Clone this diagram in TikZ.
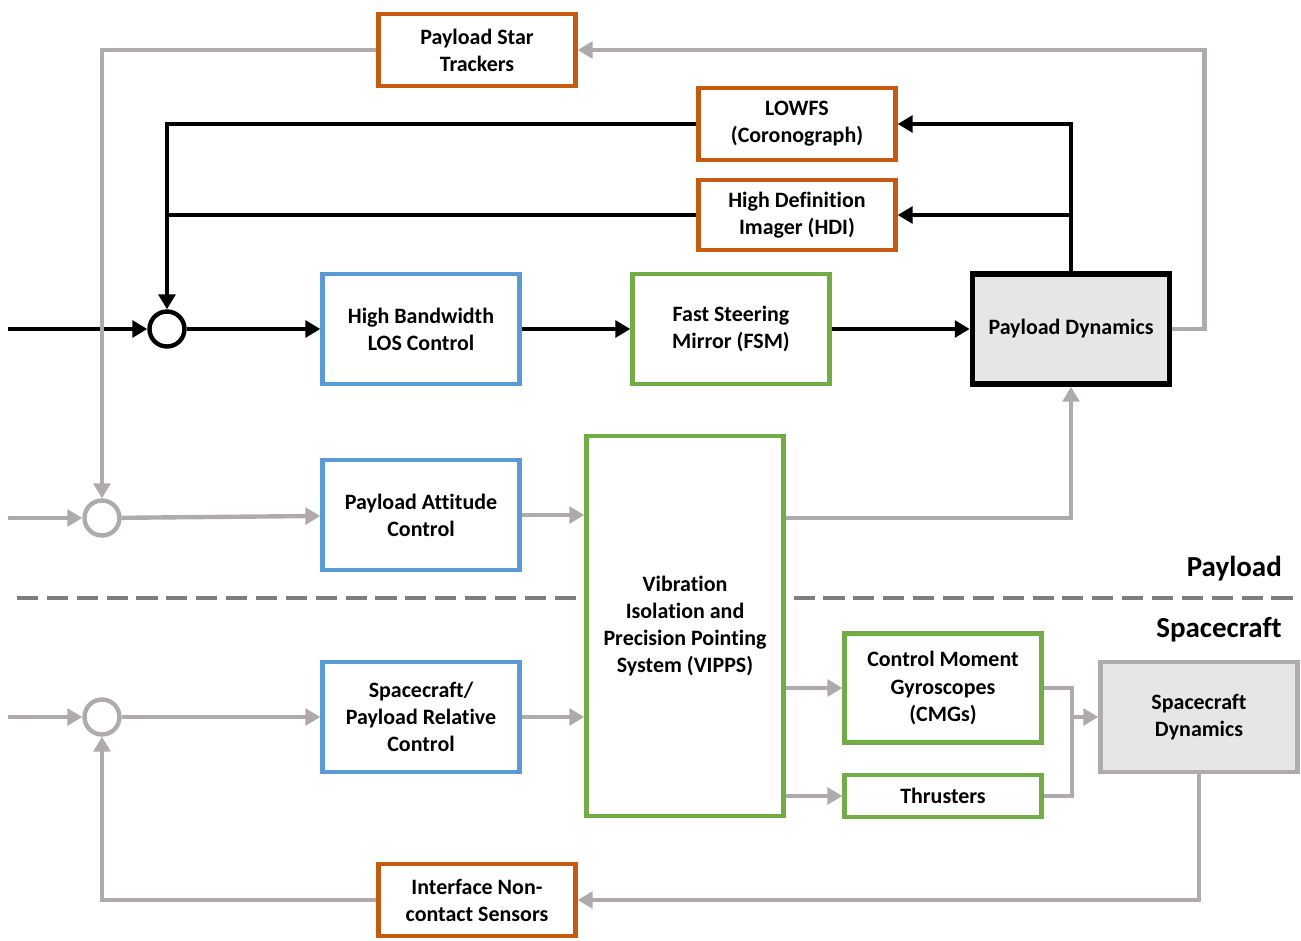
\documentclass[tikz,border=0pt]{standalone}
\usepackage{fontspec}
\setmainfont{Carlito}[Ligatures=NoCommon]
\usepackage{xcolor}
\usetikzlibrary{arrows.meta}

\definecolor{sensorange}{HTML}{C55A11}
\definecolor{ctrlblue}{HTML}{5B9BD5}
\definecolor{actgreen}{HTML}{70AD47}
\definecolor{linegray}{HTML}{AFABAB}
\definecolor{dynfill}{HTML}{E7E6E6}
\definecolor{splitgray}{HTML}{7F7F7F}

\begin{document}
\begin{tikzpicture}[x=0.02cm, y=-0.02cm,
    box/.style={draw, line width=2.5pt, fill=white, align=center, inner sep=2pt,
      minimum width=3.94cm, minimum height=2.2cm, font=\bfseries\fontsize{12.5}{15.4}\selectfont},
    sensor/.style={box, draw=sensorange, minimum height=1.44cm},
    ctrl/.style={box, draw=ctrlblue},
    actuator/.style={box, draw=actgreen},
    dyn/.style={box, fill=dynfill},
    sumpt/.style={circle, draw, line width=2.5pt, fill=white, minimum size=0.7cm, inner sep=0pt},
    blackline/.style={line width=2.5pt, -{Triangle[length=8.5pt, width=9.5pt]}},
    grayline/.style={line width=2.5pt, -{Triangle[length=8.5pt, width=9.5pt]}, color=linegray}]
    \useasboundingbox (0,0) rectangle (1301,940);

    % payload / spacecraft split
    \draw[splitgray, line width=2.4pt, dash pattern=on 12pt off 5pt] (17,598) -- (1301,598);
    \node[anchor=east, font=\bfseries\fontsize{16.5}{20}\selectfont] (payloadlbl) at (1288,569) {Payload};
    \node[anchor=east, font=\bfseries\fontsize{16.5}{20}\selectfont] (scraftlbl) at (1288,630) {Spacecraft};

    % sensors
    \node[sensor] (star) at (477,50) {Payload Star\\Trackers};
    \node[sensor] (lowfs) at (797,124) {LOWFS\\(Coronograph)};
    \node[sensor, minimum height=1.4cm] (hdi) at (797,215) {High Definition\\Imager (HDI)};
    \node[sensor] (ncs) at (477,900) {Interface Non-\\contact Sensors};

    % controllers, actuators, plants
    \node[sumpt] (sum1) at (167,329) {};
    \node[ctrl] (hblos) at (421,329) {High Bandwidth\\LOS Control};
    \node[actuator] (fsm) at (731,329) {Fast Steering\\Mirror (FSM)};
    \node[dyn, line width=3.2pt] (pdyn) at (1071,329) {Payload Dynamics};
    \node[sumpt, draw=linegray] (sum2) at (102,518) {};
    \node[ctrl] (pac) at (421,515) {Payload Attitude\\Control};
    \node[actuator, minimum height=7.6cm] (vipps) at (685,626) {Vibration\\Isolation and\\Precision Pointing\\System (VIPPS)};
    \node[sumpt, draw=linegray] (sum3) at (102,717) {};
    \node[ctrl] (sprc) at (421,717) {Spacecraft/\\Payload Relative\\Control};
    \node[actuator, minimum height=2.18cm] (cmg) at (943,688) {Control Moment\\Gyroscopes\\(CMGs)};
    \node[actuator, minimum height=0.84cm] (thr) at (943,796) {Thrusters};
    \node[dyn, draw=linegray] (sdyn) at (1199,717) {Spacecraft\\Dynamics};

    \coordinate (in1) at (8,329);
    \coordinate (in2) at (8,518);
    \coordinate (in3) at (8,717);
    \coordinate (join) at (1072,717);

    % fine pointing loop
    \draw[blackline] (in1) -- (sum1);
    \draw[blackline] (sum1) -- (hblos);
    \draw[blackline] (hblos) -- (fsm);
    \draw[blackline] (fsm) -- (pdyn);
    \draw[blackline] (pdyn.north) |- (lowfs.east);
    \draw[blackline] (pdyn.north) |- (hdi.east);
    \draw[blackline] (lowfs.west) -| (sum1.north);
    \draw[line width=2.5pt] (hdi.west) -- (hdi.west -| sum1);

    % payload attitude loop
    \draw[grayline] (pdyn.east) -- ++(32,0) |- (star.east);
    \draw[grayline] (star.west) -| (sum2.north);
    \draw[grayline] (in2) -- (sum2);
    \draw[grayline] (sum2) -- (pac);
    \draw[grayline] (pac) -- (vipps.west |- pac);
    \draw[grayline] (vipps.east |- sum2) -| (pdyn.south);

    % spacecraft loop
    \draw[grayline] (in3) -- (sum3);
    \draw[grayline] (sum3) -- (sprc);
    \draw[grayline] (sprc) -- (vipps.west |- sprc);
    \draw[grayline] (vipps.east |- cmg) -- (cmg.west);
    \draw[grayline] (vipps.east |- thr) -- (thr.west);
    \draw[grayline, -] (cmg.east) -| (join) |- (thr.east);
    \draw[grayline] (join) -- (sdyn.west);
    \draw[grayline] (sdyn.south) |- (ncs.east);
    \draw[grayline] (ncs.west) -| (sum3.south);
\end{tikzpicture}
\end{document}
